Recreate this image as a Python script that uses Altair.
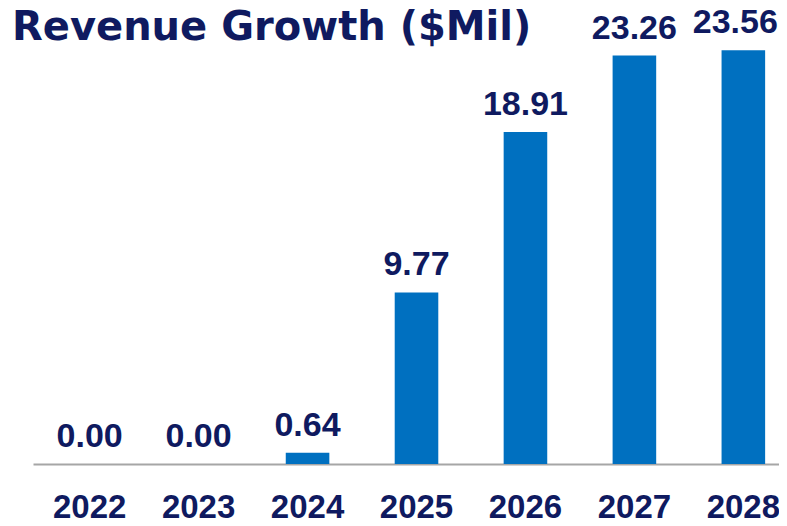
import altair as alt
import pandas as pd

years = ["2022", "2023", "2024", "2025", "2026", "2027", "2028"]
revenue = [0.00, 0.00, 0.64, 9.77, 18.91, 23.26, 23.56]
title_text = ["Revenue Growth ($Mil)"]
last_year = years[-1]

NAVY = "#0f1a60"
BLUE = "#0070c0"
FONT = "Liberation Sans"

df = pd.DataFrame({"year": years, "revenue": revenue})
tdf = pd.DataFrame({"t": title_text})

base = alt.Chart(df).encode(
    x=alt.X(
        "year:N",
        sort=None,
        scale=alt.Scale(range=[0, 767], paddingInner=0.6, paddingOuter=0.32),
        axis=alt.Axis(
            title=None,
            domainColor="#a6a6a6",
            domainWidth=2,
            ticks=False,
            labelFont=FONT,
            labelFontSize=33,
            labelFontWeight="bold",
            labelColor=NAVY,
            labelAngle=0,
            labelBaseline="alphabetic",
            labelPadding=53,
        ),
    ),
    y=alt.Y("revenue:Q", scale=alt.Scale(domain=[0, 25], nice=False), axis=None),
)

bars = base.mark_bar(color=BLUE)
label_style = dict(baseline="alphabetic", fontSize=34, fontWeight="bold", color=NAVY, font=FONT)
labels = (
    base.mark_text(dy=-17, **label_style)
    .encode(text=alt.Text("revenue:Q", format=".2f"))
    .transform_filter(alt.datum.year != last_year)
)
labels_last = (
    base.mark_text(dy=-17, dx=-8, **label_style)
    .encode(text=alt.Text("revenue:Q", format=".2f"))
    .transform_filter(alt.datum.year == last_year)
)

title = alt.Chart(tdf).mark_text(
    align="left", baseline="alphabetic", fontSize=40, fontWeight="bold", color=NAVY,
    font="DejaVu Sans"
).encode(text="t:N", x=alt.value(-21), y=alt.value(15))

chart = (
    alt.layer(bars, labels, labels_last, title)
    .properties(
        width=746,
        height=439,
        autosize=alt.AutoSizeParams(type="none"),
        padding={"left": 25, "top": 17, "right": 0, "bottom": 54},
    )
    .configure_view(stroke=None)
)

chart.save("out.html", embed_options={"renderer": "svg", "actions": False})
